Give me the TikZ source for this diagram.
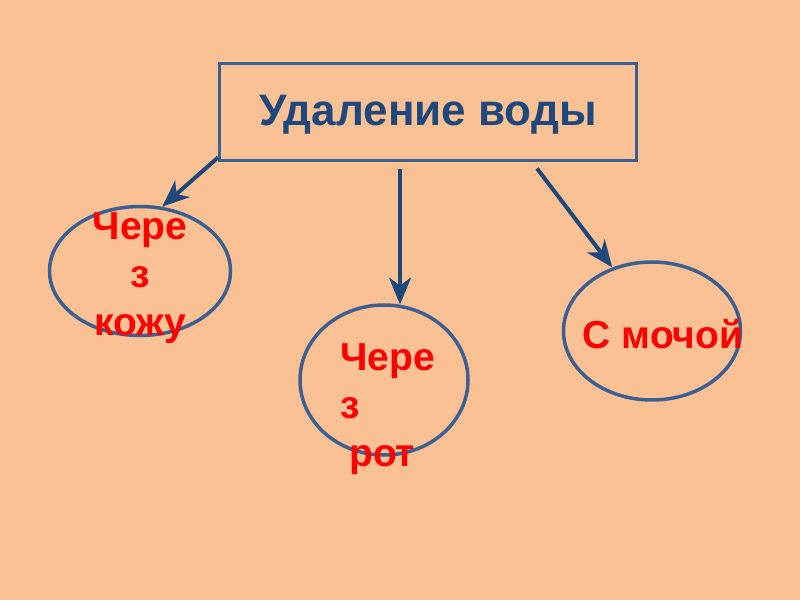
\documentclass[tikz,border=0pt]{standalone}
\usepackage{fontspec}
\setmainfont{Liberation Sans}
\usepackage{xcolor}
\usepackage{tikz}
\usetikzlibrary{arrows.meta,shapes.geometric,positioning}

\definecolor{peach}{RGB}{249,193,148}
\definecolor{navy}{RGB}{31,73,125}
\definecolor{steel}{RGB}{60,96,146}

\begin{document}
\begin{tikzpicture}[
  x=1pt, y=1pt,
  box/.style={draw=steel, line width=3pt, minimum width=417pt, minimum height=97pt,
    text=navy, font=\fontsize{44}{50}\selectfont\bfseries},
  oval/.style={draw=steel, line width=3.5pt, ellipse, inner sep=0pt},
  redtxt/.style={text=red, inner sep=0pt, font=\fontsize{39}{48}\selectfont\bfseries},
  arr/.style={draw=navy, line width=4pt, -{Stealth[length=27pt, width=22pt, inset=8pt]}}
]
\useasboundingbox[fill=peach] (0,0) rectangle (800,600);

\node[box, text depth=4pt] (title) at (428,487.5) {Удаление воды};

\node[oval, minimum width=181pt, minimum height=129pt] (kozha) at (140,329) {};
\node[oval, minimum width=168pt, minimum height=150pt] (rot) at (384,220) {};
\node[oval, minimum width=177pt, minimum height=138pt] (mocha) at (652,269) {};

\node[redtxt, align=center] (kozha-t) at (140,322) {Чере\\з\\кожу};
\node[redtxt, align=left, anchor=north west] (rot-t) at (340,257) {Чере\\з\\\hspace*{9pt}рот};
\node[redtxt] (mocha-t) at (663,266) {С мочой};

\draw[arr] ([yshift=5pt]title.south west) -- (kozha.71);
\draw[arr, shorten <=7pt] (rot.78 |- title.south) -- (rot.78);
\draw[arr] ([xshift=109pt,yshift=-6pt]title.south) -- (mocha.122);
\end{tikzpicture}
\end{document}
